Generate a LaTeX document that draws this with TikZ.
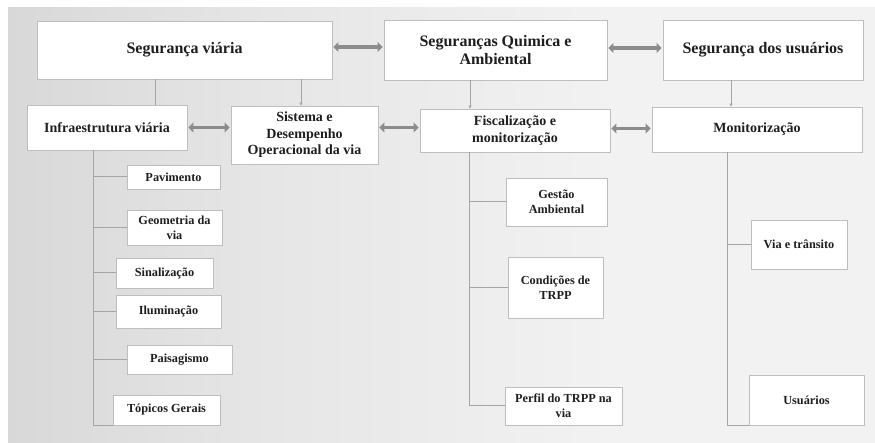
\documentclass[tikz,border=0pt]{standalone}
\usepackage{fontspec}
\setmainfont{Liberation Serif}[BoldFont={Liberation Serif Bold},UprightFont={Liberation Serif}]
\usetikzlibrary{arrows.meta,calc}
\definecolor{bgA}{RGB}{204,204,204}
\definecolor{bgB}{RGB}{230,230,230}
\definecolor{bgC}{RGB}{242,242,242}
\definecolor{boxline}{RGB}{190,190,190}
\definecolor{thinline}{RGB}{165,165,165}
\definecolor{thick}{RGB}{140,140,140}
\definecolor{txt}{RGB}{30,30,30}
\pgfdeclarehorizontalshading{bgshade}{100bp}{color(0bp)=(bgA); color(12bp)=(bgA); color(40bp)=(bgB); color(60bp)=(bgC); color(100bp)=(bgC)}
\begin{document}
\begin{tikzpicture}[x=1pt,y=1pt,
  box/.style={draw=boxline, line width=0.8pt, fill=white, align=center, inner sep=2pt, text=txt, font=\bfseries},
  bigbox/.style={box, font=\bfseries\fontsize{16}{18.5}\selectfont},
  midbox/.style={box, font=\bfseries\fontsize{14}{16.5}\selectfont},
  smallbox/.style={box, font=\bfseries\fontsize{12.3}{15}\selectfont},
  link/.style={draw=thinline, line width=1pt},
  linkarr/.style={link, -{Triangle[length=3pt,width=3pt]}},
  dbl/.style={draw=thick, line width=3.5pt, {Triangle[length=5pt,width=10pt]}-{Triangle[length=5pt,width=10pt]}, shorten <=1pt, shorten >=1pt}
]
\useasboundingbox (0,0) rectangle (875,443);
\fill[white] (0,0) rectangle (875,443);
\shade[shading=bgshade] (8,0) rectangle (875,435);

% top row
\node[bigbox, minimum width=295, minimum height=58] (segv) at (184.5,393) {Segurança viária};
\node[bigbox, minimum width=223, minimum height=60] (segq) at (495.5,393) {Seguranças Quimica e\\Ambiental};
\node[bigbox, minimum width=200, minimum height=60] (segu) at (763,393) {Segurança dos usuários};

% second row
\node[midbox, minimum width=160, minimum height=45] (infra) at (107,315.5) {Infraestrutura viária};
\node[midbox, minimum width=147, minimum height=58] (sist) at (304.5,308) {Sistema e\\Desempenho\\Operacional da via};
\node[midbox, minimum width=190, minimum height=43] (fisc) at (515,312.5) {Fiscalização e\\monitorização};
\node[midbox, minimum width=210, minimum height=45] (monit) at (757,313.5) {Monitorização};

% left column
\node[smallbox, minimum width=93, minimum height=24] (pav) at (173.5,266) {Pavimento};
\node[smallbox, minimum width=95, minimum height=35] (geom) at (174.5,215.5) {Geometria da\\via};
\node[smallbox, minimum width=97, minimum height=30] (sinal) at (164.5,170) {Sinalização};
\node[smallbox, minimum width=105, minimum height=33] (ilum) at (168.5,131.5) {Iluminação};
\node[smallbox, minimum width=105, minimum height=29] (pais) at (179.5,83.5) {Paisagismo};
\node[smallbox, minimum width=107, minimum height=30] (topi) at (166.5,33) {Tópicos Gerais};

% middle column
\node[smallbox, minimum width=101, minimum height=48] (gest) at (556.5,241) {Gestão\\Ambiental};
\node[smallbox, minimum width=95, minimum height=61] (cond) at (555.5,155.5) {Condições de\\TRPP};
\node[smallbox, minimum width=117, minimum height=38] (perf) at (563.5,37) {Perfil do TRPP na\\via};

% right column
\node[smallbox, minimum width=96, minimum height=49] (via) at (799,198.5) {Via e trânsito};
\node[smallbox, minimum width=115, minimum height=50] (usu) at (806.5,43) {Usuários};

% trunk coordinates
\coordinate (xa) at (155,0);
\coordinate (xb) at (301,0);
\coordinate (xc) at (470,0);
\coordinate (xd) at (731,0);
\coordinate (t1) at (93,0);
\coordinate (t2) at (469,0);
\coordinate (t3) at (727,0);

% vertical links from top row
\draw[link] (segv.south -| xa) -- (infra.north -| xa);
\draw[linkarr] (segv.south -| xb) -- (sist.north -| xb);
\draw[linkarr] (segq.south -| xc) -- (fisc.north -| xc);
\draw[linkarr] (segu.south -| xd) -- (monit.north -| xd);

% left tree
\draw[link] (infra.south -| t1) |- (topi.south west);
\foreach \n in {pav,geom,sinal,ilum,pais}{
  \draw[link] (\n.west -| t1) -- (\n.west);
}
% middle tree
\draw[link] (fisc.south -| t2) |- (perf.west);
\draw[link] (gest.west -| t2) -- (gest.west);
\draw[link] (cond.west -| t2) -- (cond.west);
% right tree
\draw[link] (monit.south -| t3) |- (usu.south west);
\draw[link] (via.west -| t3) -- (via.west);

% thick double arrows
\draw[dbl] ([yshift=3]segv.east) -- ([yshift=3]segv.east -| segq.west);
\draw[dbl] ([yshift=2]segq.east) -- ([yshift=2]segq.east -| segu.west);
\draw[dbl] (infra.east) -- (infra.east -| sist.west);
\draw[dbl] ([yshift=3]fisc.west -| sist.east) -- ([yshift=3]fisc.west);
\draw[dbl] ([yshift=2]fisc.east) -- ([yshift=2]fisc.east -| monit.west);
\end{tikzpicture}
\end{document}
